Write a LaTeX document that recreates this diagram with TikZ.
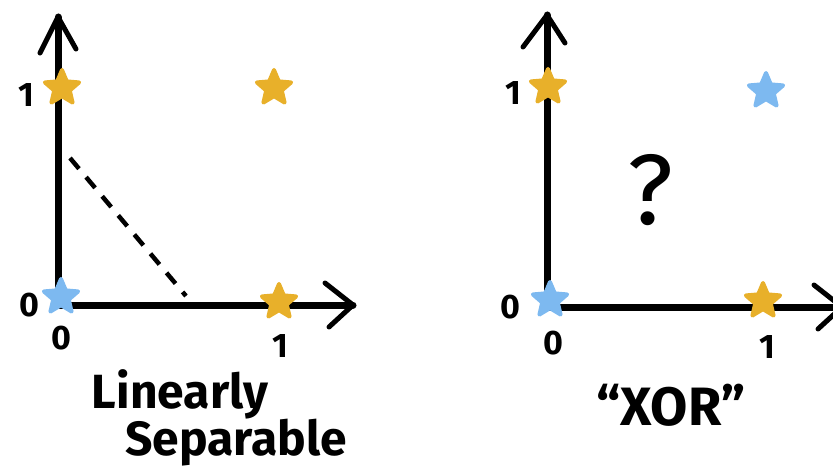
\documentclass[tikz,border=0pt]{standalone}
\usepackage{fontspec}
\setmainfont{Fira Sans}
\usetikzlibrary{shapes.geometric,calc}
\definecolor{gold}{HTML}{E8B02A}
\definecolor{sky}{HTML}{7DB9F0}
\tikzset{
  axisline/.style={line width=7pt, line cap=round},
  tipline/.style={line width=5pt, line cap=round, line join=round},
  starpt/.style={star, star points=5, star point ratio=2.2, minimum size=36pt, inner sep=0pt, line width=4pt, line join=round},
  gstar/.style={starpt, fill=gold, draw=gold},
  bstar/.style={starpt, fill=sky, draw=sky},
  num/.style={font=\fontsize{34}{34}\selectfont\bfseries, inner sep=0pt},
  captext/.style={font=\fontsize{48}{52}\selectfont\bfseries, inner sep=0pt, align=center}
}
\begin{document}
\begin{tikzpicture}[x=1pt,y=-1pt]
\useasboundingbox (0,0) rectangle (833,473);
% ---------- left panel ----------
\coordinate (Lo) at (58,305);
\coordinate (Ly) at (58,17);
\coordinate (Lx) at (353,305);
\draw[axisline] (Lo) -- (Ly);
\draw[axisline] (Lo) -- (Lx);
\draw[tipline] ($(Ly)+(-18,36)$) -- (Ly) -- ($(Ly)+(18,32)$);
\draw[tipline] ($(Lx)+(-28,-22)$) -- (Lx) -- ($(Lx)+(-24,22)$);
\coordinate (Da) at (70,158);
\coordinate (Db) at (186,296);
\draw[line width=4.5pt, dash pattern=on 14pt off 11pt] (Da) -- (Db);
\node[gstar] (L01) at (62,88) {};
\node[gstar] (L11) at (274,88) {};
\node[bstar] (L00) at (61,297) {};
\node[gstar] (L10) at (279,302) {};
\node[num] (Ly1) at (26,95) {1};
\node[num] (Ly0) at (29,305) {0};
\node[num] (Lx0) at (61,338) {0};
\node[num] (Lx1) at (280,346) {1};
\node[captext] (Lcap1) at (180,394) {Linearly};
\node[captext] (Lcap2) at (236,443) {Separable};
% ---------- right panel ----------
\coordinate (Ro) at (547,307);
\coordinate (Ry) at (547,15);
\coordinate (Rx) at (842,307);
\draw[axisline] (Ro) -- (Ry);
\draw[axisline] (Ro) -- (Rx);
\draw[tipline] ($(Ry)+(-24,32)$) -- (Ry) -- ($(Ry)+(18,28)$);
\draw[tipline] ($(Rx)+(-28,-22)$) -- (Rx) -- ($(Rx)+(-24,22)$);
\node[gstar] (R01) at (548,87) {};
\node[bstar] (R11) at (766,91) {};
\node[bstar] (R00) at (550,300) {};
\node[gstar] (R10) at (763,301) {};
\node[num] (Ry1) at (513,93) {1};
\node[num] (Ry0) at (510,307) {0};
\node[num] (Rx0) at (553,343) {0};
\node[num] (Rx1) at (767,347) {1};
\node[font=\fontsize{100}{100}\selectfont, inner sep=0pt] (Q) at (650,190) {?};
\node[captext, font=\fontsize{54}{58}\selectfont\bfseries] (Rcap) at (671,405) {“XOR”};
\end{tikzpicture}
\end{document}
